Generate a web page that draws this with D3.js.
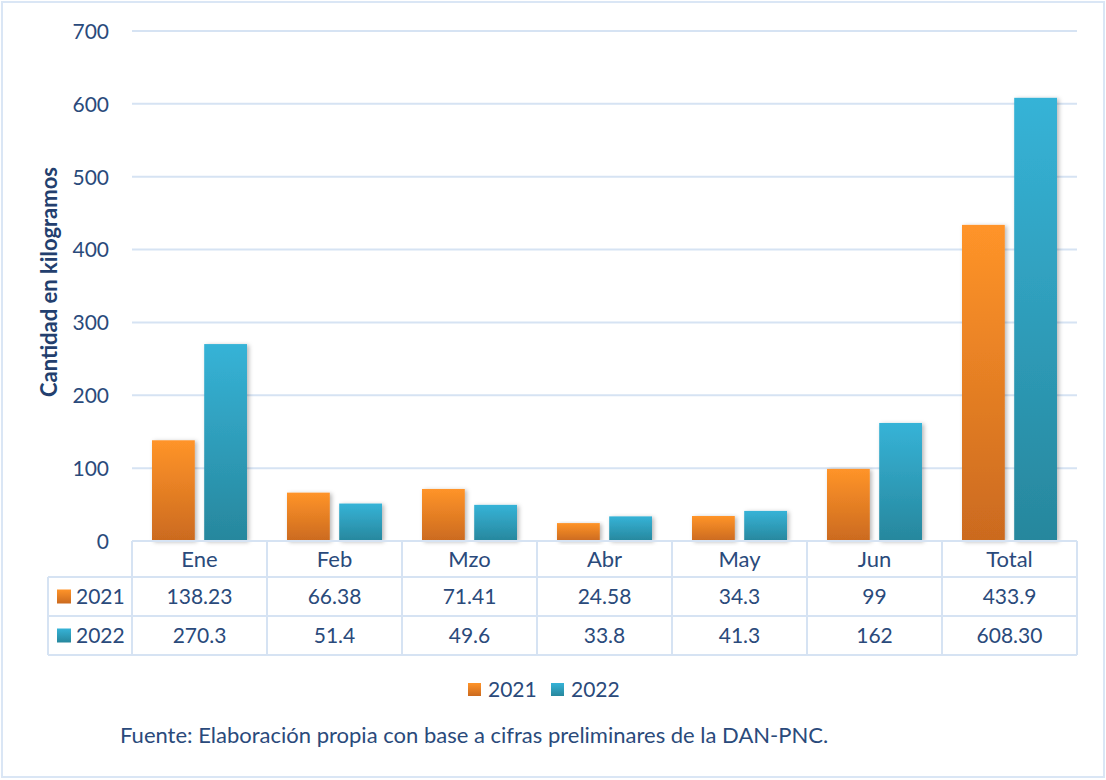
<!DOCTYPE html>
<html><head><meta charset="utf-8">
<script src="https://cdn.jsdelivr.net/npm/d3@7/dist/d3.min.js"></script>
<style>
html,body{margin:0;padding:0;background:#fff;}
svg{display:block;font-family:Lato, "Open Sans", sans-serif;}
</style></head>
<body>
<svg id="chart" width="1106" height="780"></svg>
<script>
const categories = ["Ene","Feb","Mzo","Abr","May","Jun","Total"];
const seriesNames = ["2021","2022"];
const values2021 = [138.23, 66.38, 71.41, 24.58, 34.3, 99, 433.9];
const values2022 = [270.3, 51.4, 49.6, 33.8, 41.3, 162, 608.30];
const labels2021 = ["138.23","66.38","71.41","24.58","34.3","99","433.9"];
const labels2022 = ["270.3","51.4","49.6","33.8","41.3","162","608.30"];
const yTicks = [0,100,200,300,400,500,600,700];
const yTitle = "Cantidad en kilogramos";
const sourceText = "Fuente: Elaboración propia con base a cifras preliminares de la DAN-PNC.";

(function(){
const textColor = "#2A4A7B";
const gridColor = "#D6E3F3";
const svg = d3.select("#chart");

// outer border
svg.append("rect").attr("x",2).attr("y",2).attr("width",1102).attr("height",775)
  .attr("fill","#fff").attr("stroke","#DAE6F5").attr("stroke-width",2);

const defs = svg.append("defs");
const grads = [["g2021","#FF9429","#CB6A1F"],["g2022","#36B3D7","#27879D"]];
grads.forEach(([id,t,b])=>{
  const g = defs.append("linearGradient").attr("id",id).attr("x1",0).attr("y1",0).attr("x2",0).attr("y2",1);
  g.append("stop").attr("offset","0%").attr("stop-color",t);
  g.append("stop").attr("offset","100%").attr("stop-color",b);
});
const f = defs.append("filter").attr("id","shadow").attr("x","-20%").attr("y","-10%").attr("width","150%").attr("height","130%");
f.append("feDropShadow").attr("dx",2).attr("dy",1).attr("stdDeviation",2).attr("flood-color","#000").attr("flood-opacity",0.28);

const pLeft = 132, pRight = 1077, pTop = 31, pBottom = 541;
const x = d3.scaleBand().domain(categories).range([pLeft,pRight]).paddingInner(0).paddingOuter(0);
const y = d3.scaleLinear().domain([0,700]).range([pBottom, pTop]);
const x1 = d3.scaleBand().domain(seriesNames).range([20, x.bandwidth()-20]).paddingInner(0.18);

// gridlines
svg.append("g").selectAll("line").data(yTicks.filter(d=>d>0)).join("line")
  .attr("x1",pLeft).attr("x2",pRight).attr("y1",d=>y(d)).attr("y2",d=>y(d))
  .attr("stroke",gridColor).attr("stroke-width",2);

// y axis labels
const yAxis = d3.axisLeft(y).tickValues(yTicks).tickSize(0).tickPadding(0);
const ya = svg.append("g").attr("transform",`translate(${pLeft-23},0)`).call(yAxis);
ya.select(".domain").remove();
ya.selectAll("text").attr("fill",textColor).style("font-size","21px").style("font-family","Lato, sans-serif").attr("dy","0.35em");

// y title
svg.append("text").attr("transform",`translate(57,282) rotate(-90)`)
  .attr("text-anchor","middle").attr("fill","#233F6E").style("font-size","22px").style("font-weight","bold")
  .text(yTitle);

// bars
const data = categories.map((c,i)=>({cat:c, vals:[{s:"2021",v:values2021[i]},{s:"2022",v:values2022[i]}]}));
const grp = svg.append("g").selectAll("g").data(data).join("g").attr("transform",d=>`translate(${x(d.cat)},0)`);
grp.selectAll("rect").data(d=>d.vals).join("rect")
  .attr("x",d=>x1(d.s)).attr("width",x1.bandwidth())
  .attr("y",d=>y(d.v)).attr("height",d=>y(0)-y(d.v))
  .attr("fill",d=>d.s==="2021"?"url(#g2021)":"url(#g2022)")
  .attr("filter","url(#shadow)");

// data table
const rowTops = [541, 577, 616, 655];
const tbl = svg.append("g");
tbl.append("line").attr("x1",pLeft).attr("x2",pRight).attr("y1",rowTops[0]).attr("y2",rowTops[0]).attr("stroke",gridColor).attr("stroke-width",2);
[1,2,3].forEach(i=>{
  tbl.append("line").attr("x1",48).attr("x2",pRight).attr("y1",rowTops[i]).attr("y2",rowTops[i]).attr("stroke",gridColor).attr("stroke-width",2);
});
const colEdges = categories.map(c=>x(c)).concat([pRight]);
colEdges.forEach(cx=>{
  tbl.append("line").attr("x1",cx).attr("x2",cx).attr("y1",rowTops[0]).attr("y2",rowTops[3]).attr("stroke",gridColor).attr("stroke-width",2);
});
tbl.append("line").attr("x1",48).attr("x2",48).attr("y1",rowTops[1]).attr("y2",rowTops[3]).attr("stroke",gridColor).attr("stroke-width",2);

tbl.selectAll("text.cat").data(categories).join("text").attr("class","cat")
  .attr("x",d=>x(d)+x.bandwidth()/2).attr("y",(rowTops[0]+rowTops[1])/2).attr("dy","0.35em")
  .attr("text-anchor","middle").attr("fill",textColor).style("font-size","22px").text(d=>d);

const rowsLabels = [labels2021, labels2022];
rowsLabels.forEach((labs,r)=>{
  const cy = (rowTops[r+1]+rowTops[r+2])/2;
  tbl.append("g").selectAll("text").data(labs).join("text")
    .attr("x",(d,i)=>x(categories[i])+x.bandwidth()/2).attr("y",cy).attr("dy","0.35em")
    .attr("text-anchor","middle").attr("fill",textColor).style("font-size","21px").text(d=>d);
  tbl.append("rect").attr("x",57).attr("y",cy-7).attr("width",14).attr("height",14)
    .attr("fill",r===0?"url(#g2021)":"url(#g2022)");
  tbl.append("text").attr("x",76).attr("y",cy).attr("dy","0.35em").attr("fill",textColor)
    .style("font-size","21px").text(seriesNames[r]);
});

// legend
const lg = svg.append("g");
const legX = [468, 551];
seriesNames.forEach((s,i)=>{
  lg.append("rect").attr("x",legX[i]).attr("y",683).attr("width",13).attr("height",13)
    .attr("fill",i===0?"url(#g2021)":"url(#g2022)");
  lg.append("text").attr("x",legX[i]+20).attr("y",690).attr("dy","0.35em").attr("fill",textColor)
    .style("font-size","21px").text(s);
});

// source
svg.append("text").attr("x",120).attr("y",735).attr("dy","0.35em").attr("fill",textColor)
  .style("font-size","22px").text(sourceText);
})();
</script>
</body></html>
